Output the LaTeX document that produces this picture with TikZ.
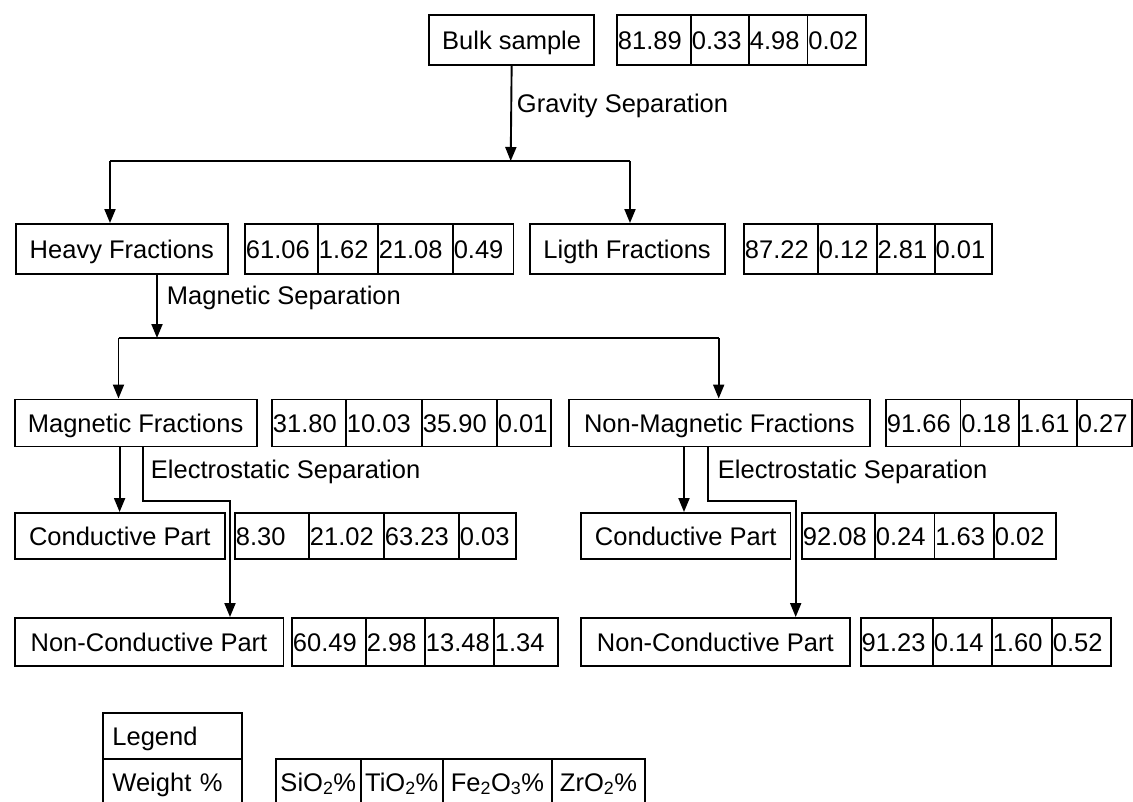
\documentclass[tikz,border=0pt]{standalone}
\usepackage{fontspec}
\setmainfont{Liberation Sans}
\usetikzlibrary{arrows.meta}
\newcommand\tcell[6]{%
  \pgfmathsetmacro\tcw{#3-#2}\pgfmathsetmacro\tct{#3-#2-2}%
  \node[cellbox, minimum width=\tcw pt, minimum height=#5pt, text width=\tct pt] (#1) at (#2,#4) {#6};}
\newcommand\tbox[6]{%
  \pgfmathsetmacro\tcw{#3-#2}%
  \node[box, minimum width=\tcw pt, minimum height=#5pt] (#1) at (#2,#4) {#6};}
\begin{document}
\begin{tikzpicture}[x=1pt,y=-1pt,
  font=\fontsize{25.5}{30}\selectfont,
  line width=1.9pt,
  box/.style={draw, rectangle, inner sep=0pt, anchor=west, text height=22pt, text depth=4pt},
  cellbox/.style={draw, rectangle, inner xsep=1pt, inner ysep=0pt, anchor=west, align=left, text height=22pt, text depth=4pt},
  oxcell/.style={cellbox, align=center},
  arr/.style={-{Triangle[length=14pt,width=11pt]}},
  lbl/.style={anchor=west, inner sep=0pt}
]
\useasboundingbox (0,0) rectangle (1133,801);

% Row 1
\tbox{bulk}{428.4}{593}{40}{50}{Bulk sample}
\tcell{b1}{616}{690}{40}{50}{81.89}
\tcell{b2}{690}{748}{40}{50}{0.33}
\tcell{b3}{748}{806.5}{40}{50}{4.98}
\tcell{b4}{806.5}{865}{40}{50}{0.02}

% Row 2
\tbox{heavy}{15}{226.8}{249}{50}{Heavy Fractions}
\tcell{h1}{244}{317}{249}{50}{61.06}
\tcell{h2}{317}{376.8}{249}{50}{1.62}
\tcell{h3}{376.8}{451.8}{249}{50}{21.08}
\tcell{h4}{451.8}{512.5}{249}{50}{0.49}
\tbox{light}{528.6}{723.7}{249}{50}{Ligth Fractions}
\tcell{l1}{743}{817}{249}{50}{87.22}
\tcell{l2}{817}{875.7}{249}{50}{0.12}
\tcell{l3}{875.7}{933.6}{249}{50}{2.81}
\tcell{l4}{933.6}{991}{249}{50}{0.01}

% Row 3
\tbox{magf}{13.6}{255.7}{423}{47}{Magnetic Fractions}
\tcell{m1}{271}{345}{423}{47}{31.80}
\tcell{m2}{345}{421}{423}{47}{10.03}
\tcell{m3}{421}{496}{423}{47}{35.90}
\tcell{m4}{496}{550}{423}{47}{0.01}
\tbox{nonmag}{568}{868.8}{423}{47}{Non-Magnetic Fractions}
\tcell{n1}{885}{959.5}{423}{47}{91.66}
\tcell{n2}{959.5}{1018}{423}{47}{0.18}
\tcell{n3}{1018}{1076}{423}{47}{1.61}
\tcell{n4}{1076}{1131}{423}{47}{0.27}

% Row 4
\tbox{condL}{13.6}{224}{536}{46}{Conductive Part}
\tcell{c1}{234}{308}{536}{46}{8.30}
\tcell{c2}{308}{383}{536}{46}{21.02}
\tcell{c3}{383}{458}{536}{46}{63.23}
\tcell{c4}{458}{515}{536}{46}{0.03}
\tbox{condR}{580}{789.5}{536}{46}{Conductive Part}
\tcell{d1}{801}{874}{536}{46}{92.08}
\tcell{d2}{874}{933.5}{536}{46}{0.24}
\tcell{d3}{933.5}{993}{536}{46}{1.63}
\tcell{d4}{993}{1055}{536}{46}{0.02}

% Row 5
\tbox{nconL}{13.6}{282.5}{642}{48}{Non-Conductive Part}
\tcell{p1}{291}{365}{642}{48}{60.49}
\tcell{p2}{365}{424}{642}{48}{2.98}
\tcell{p3}{424}{493}{642}{48}{13.48}
\tcell{p4}{493}{557}{642}{48}{1.34}
\tbox{nconR}{580}{848.7}{642}{48}{Non-Conductive Part}
\tcell{q1}{859.7}{932}{642}{48}{91.23}
\tcell{q2}{932}{991}{642}{48}{0.14}
\tcell{q3}{991}{1051}{642}{48}{1.60}
\tcell{q4}{1051}{1110}{642}{48}{0.52}

% Legend
\node[cellbox, inner xsep=9.5pt, text width=120pt, minimum height=46pt] (leg) at (102,736) {Legend};
\node[cellbox, inner xsep=9.5pt, text width=120pt, minimum height=46pt] (wt) at (102,782) {Weight \%};
\node[oxcell, text width=82.7pt, minimum height=46pt] (o1) at (275,782) {SiO\textsubscript{2}\%};
\node[oxcell, text width=80.3pt, minimum height=46pt] (o2) at (359.7,782) {TiO\textsubscript{2}\%};
\node[oxcell, text width=107pt, minimum height=46pt] (o3) at (442,782) {Fe\textsubscript{2}O\textsubscript{3}\%};
\node[oxcell, text width=91pt, minimum height=46pt] (o4) at (551,782) {ZrO\textsubscript{2}\%};

% Gravity separation
\coordinate (gL) at (110,161);
\coordinate (gR) at (630,161);
\coordinate (gM) at (510.7,161);
\draw[arr] (bulk.south) -- (gM);
\draw (gL) -- (gR);
\draw[arr] (gL) -- (gL |- heavy.north);
\draw[arr] (gR) -- (gR |- light.north);
\node[lbl] (gtext) at (516,106) {Gravity Separation};

% Magnetic separation
\coordinate (mL) at (118.5,338);
\coordinate (mR) at (718.7,338);
\coordinate (mM) at (157,338);
\draw[arr] (heavy.south -| mM) -- (mM);
\draw (mL) -- (mR);
\draw[arr] (mL) -- (mL |- magf.north);
\draw[arr] (mR) -- (mR |- nonmag.north);
\node[lbl] (mtext) at (166,298) {Magnetic Separation};

% Electrostatic separation, left
\coordinate (eLa) at (119.6,501);
\coordinate (eLb) at (143,501);
\coordinate (eLc) at (230,501);
\draw[arr] (magf.south -| eLa) -- (condL.north -| eLa);
\draw[arr] (magf.south -| eLb) -- (eLb) -- (eLc) -- (nconL.north -| eLc);
\node[lbl] (etextL) at (150,472) {Electrostatic Separation};

% Electrostatic separation, right
\coordinate (eRa) at (684,501);
\coordinate (eRb) at (708,501);
\coordinate (eRc) at (795.7,501);
\draw[arr] (nonmag.south -| eRa) -- (condR.north -| eRa);
\draw[arr] (nonmag.south -| eRb) -- (eRb) -- (eRc) -- (nconR.north -| eRc);
\node[lbl] (etextR) at (717,472) {Electrostatic Separation};
\end{tikzpicture}
\end{document}
